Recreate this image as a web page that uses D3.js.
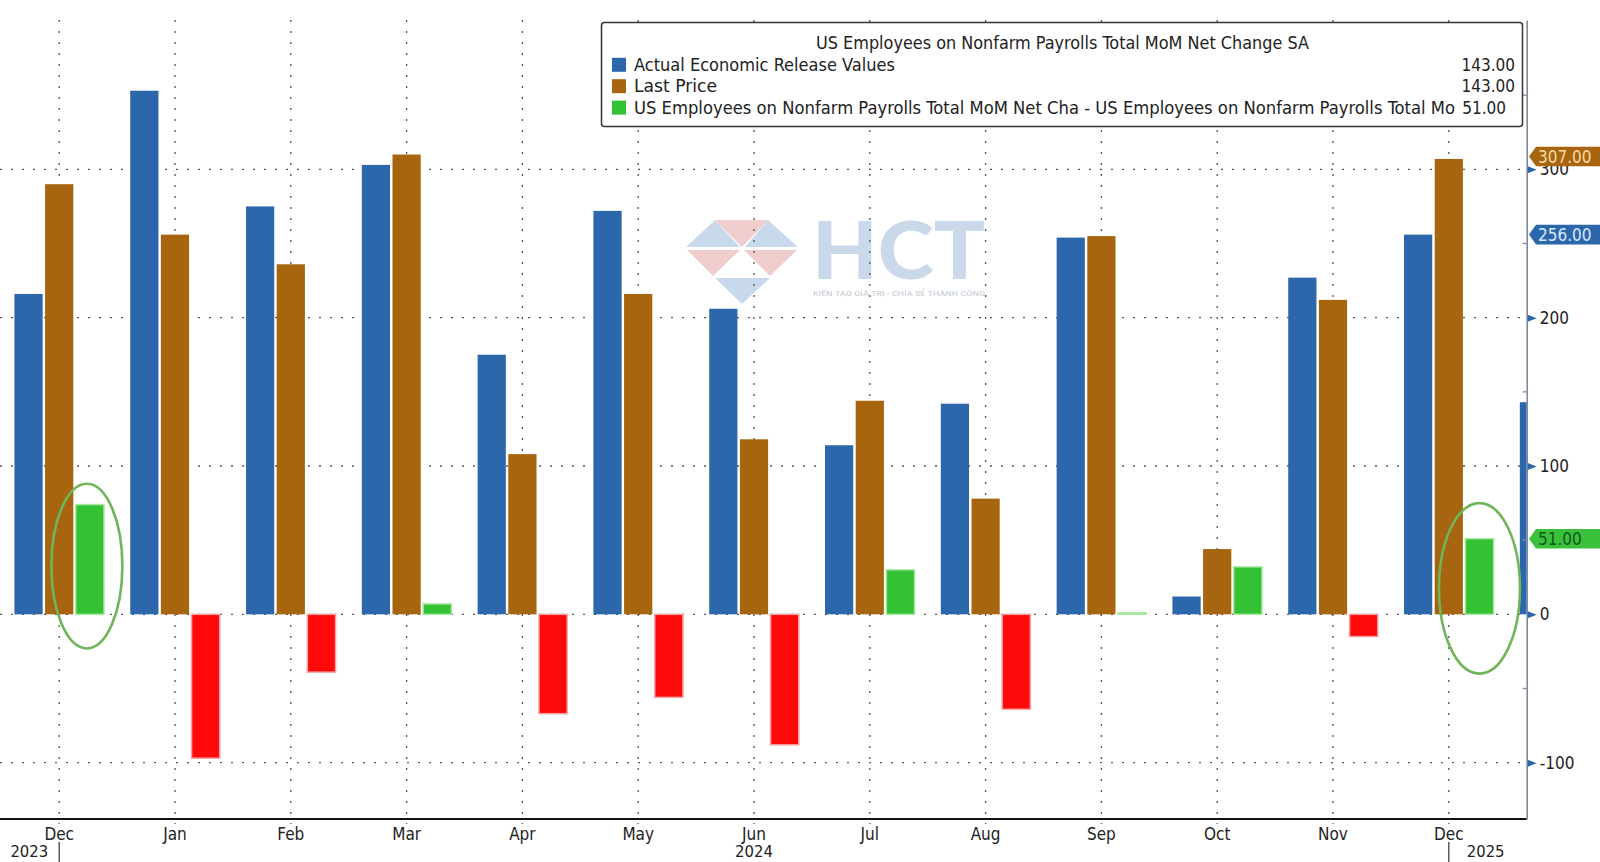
<!DOCTYPE html>
<html><head><meta charset="utf-8">
<script src="https://cdn.jsdelivr.net/npm/d3@7"></script>
<style>
html,body{margin:0;padding:0;background:#fff;}
svg{display:block;}
text{font-family:"DejaVu Sans Condensed","DejaVu Sans",sans-serif;font-stretch:condensed;}
</style></head><body><svg id="c" width="1600" height="862"></svg>
<script>
// ---- data ----
const monthKeys = ["2023-12","2024-01","2024-02","2024-03","2024-04","2024-05","2024-06","2024-07","2024-08","2024-09","2024-10","2024-11","2024-12","2025-01"];
const monthLabels = ["Dec","Jan","Feb","Mar","Apr","May","Jun","Jul","Aug","Sep","Oct","Nov","Dec","Jan"];
const actual    = [216, 353, 275, 303, 175, 272, 206, 114, 142, 254, 12, 227, 256, 143];
const lastPrice = [290, 256, 236, 310, 108, 216, 118, 144, 78, 255, 44, 212, 307, 143];
const diffVals  = [74, -97, -39, 7, -67, -56, -88, 30, -64, 1, 32, -15, 51, null];
const yTicks = [-100, 0, 100, 200, 300];
const yMinorTicks = [-50, 50, 150, 250, 350];
const yearLabels = ["2023", "2024", "2025"];
const yearAnchors = ["2023-12", "2024-06", "2024-12"];
const yearSeparators = ["2023-12", "2024-12"];
const legendTitle = "US Employees on Nonfarm Payrolls Total MoM Net Change SA";
const legendNames = ["Actual Economic Release Values", "Last Price", "US Employees on Nonfarm Payrolls Total MoM Net Cha - US Employees on Nonfarm Payrolls Total Mo"];
const legendValues = ["143.00", "143.00", "51.00"];
const tagValues = [307, 256, 51];
const highlightMonths = ["2023-12", "2024-12"];
const highlightRanges = [[88, -23], [75, -40]];

// ---- styles ----
const C = {blue:"#2c66ab", brown:"#a6650e", green:"#34c134", red:"#ff0a0a"};
const svg = d3.select("#c");
const P = {left:0, right:1526.7, top:20, bottom:819};

const x = d3.scaleBand().domain(monthKeys).range([1.3, 1.3 + 115.8*monthKeys.length]).padding(0);
const xc = k => x(k) + x.bandwidth()/2;
const xs = d3.scaleBand().domain(["actual","last","diff"]).range([-46,46]).paddingInner(0.08).paddingOuter(0.04);
const y = d3.scaleLinear().domain([-138, 400.7]).range([P.bottom, P.top]);

svg.append("rect").attr("width",1600).attr("height",862).attr("fill","#fff");

// watermark
const wm = svg.append("g").attr("transform","translate(686,220)");
const tris = [
  {p:[[0,27],[29,0],[54,27]], c:"#c9d9ec"},
  {p:[[29,0],[82,0],[56,27]], c:"#efcdcd"},
  {p:[[82,0],[112,27],[59,27]], c:"#c9d9ec"},
  {p:[[1,30],[54,30],[27,56]], c:"#efcdcd"},
  {p:[[58,30],[111,30],[84,56]], c:"#efcdcd"},
  {p:[[29,58],[84,58],[56,84]], c:"#c9d9ec"}
];
wm.selectAll("polygon").data(tris).join("polygon")
  .attr("points", d => d.p.map(q => q.join(",")).join(" "))
  .attr("fill", d => d.c);
svg.append("text").attr("x",812).attr("y",279).attr("textLength",173).attr("lengthAdjust","spacingAndGlyphs")
  .style("font-family","Lato, 'Open Sans', sans-serif").style("font-weight","900").style("font-size","80px")
  .attr("fill","#cad9ea").text("HCT");
svg.append("text").attr("x",813).attr("y",296).attr("textLength",172).attr("lengthAdjust","spacingAndGlyphs")
  .style("font-family","Roboto, sans-serif").style("font-size","8px").attr("fill","#c3cbd4")
  .text("KIẾN TẠO GIÁ TRỊ - CHIA SẺ THÀNH CÔNG");

// grid
const gridTicks = monthKeys.slice(0, 13);
svg.append("g").selectAll("line").data(gridTicks).join("line")
  .attr("x1", d => xc(d)).attr("x2", d => xc(d)).attr("y1", P.top).attr("y2", P.bottom + 5)
  .attr("stroke","#555").attr("stroke-width",1.3).attr("stroke-dasharray","2 9");
svg.append("g").selectAll("line").data(yTicks).join("line")
  .attr("x1", P.left).attr("x2", P.right).attr("y1", d => y(d)).attr("y2", d => y(d))
  .attr("stroke","#555").attr("stroke-width",1.3).attr("stroke-dasharray","2 9");

// bars
svg.append("defs").append("clipPath").attr("id","clip").append("rect")
  .attr("x",P.left).attr("y",P.top).attr("width",P.right-P.left).attr("height",P.bottom-P.top);
const bars = svg.append("g").attr("clip-path","url(#clip)");
const series = [
  {key:"actual", vals:actual},
  {key:"last", vals:lastPrice},
  {key:"diff", vals:diffVals}
];
series.forEach(s => {
  const data = monthKeys.map((k,i) => ({k, v:s.vals[i]})).filter(d => d.v !== null);
  bars.append("g").selectAll("rect").data(data).join("rect")
    .attr("x", d => xc(d.k) + xs(s.key))
    .attr("width", xs.bandwidth())
    .attr("y", d => y(Math.max(0, d.v)))
    .attr("height", d => Math.abs(y(d.v) - y(0)))
    .attr("fill", d => s.key === "actual" ? C.blue : s.key === "last" ? C.brown : (d.v >= 0 ? C.green : C.red))
    .attr("stroke", d => s.key === "diff" ? (d.v >= 0 ? "#a6e8a0" : "#f5a3a3") : "none")
    .attr("stroke-width", s.key === "diff" ? 1.5 : 0);
});

// highlight ellipses
svg.append("g").selectAll("ellipse").data(highlightMonths).join("ellipse")
  .attr("cx", (d,i) => xc(d) + xs("diff") + xs.bandwidth()/2 - (i === 0 ? 3 : 0))
  .attr("cy", (d,i) => (y(highlightRanges[i][0]) + y(highlightRanges[i][1]))/2)
  .attr("rx", (d,i) => i === 0 ? 35.5 : 40.5)
  .attr("ry", (d,i) => (y(highlightRanges[i][1]) - y(highlightRanges[i][0]))/2)
  .attr("fill","none").attr("stroke","#6fb55a").attr("stroke-width",2.6);

// bottom axis
const xAxis = d3.axisBottom(x).tickValues(gridTicks).tickSize(0).tickPadding(0)
  .tickFormat(k => monthLabels[monthKeys.indexOf(k)]);
const gx = svg.append("g").attr("transform",`translate(0,${P.bottom})`).call(xAxis);
gx.select(".domain").remove();
gx.selectAll("text").attr("y",21).attr("dy",0).style("font-size","17px").attr("fill","#222");
svg.append("line").attr("x1",P.left).attr("x2",P.right).attr("y1",P.bottom).attr("y2",P.bottom)
  .attr("stroke","#111").attr("stroke-width",2);
svg.append("g").selectAll("line").data(yearSeparators).join("line")
  .attr("x1", d => xc(d)).attr("x2", d => xc(d)).attr("y1", 842).attr("y2", 862)
  .attr("stroke","#333").attr("stroke-width",1.2);
svg.append("g").selectAll("text").data(yearLabels).join("text")
  .attr("x", (d,i) => xc(yearAnchors[i]) + (i === 0 ? -11 : i === 2 ? 18 : 0))
  .attr("y", 857)
  .attr("text-anchor", (d,i) => i === 0 ? "end" : i === 2 ? "start" : "middle")
  .style("font-size","16.5px").attr("fill","#222").text(d => d);

// right axis
const yAxis = d3.axisRight(y).tickValues(yTicks).tickSize(0).tickSizeOuter(0).tickPadding(13).tickFormat(d => String(d));
const gy = svg.append("g").attr("transform",`translate(${P.right},0)`).call(yAxis);
gy.select(".domain").attr("stroke","#7d8c9c").attr("stroke-width",1.6);
gy.selectAll("text").style("font-size","17px").attr("fill","#222");
gy.selectAll(".tick").append("path").attr("d","M1,-3.5 L10,0 L1,3.5 Z").attr("fill","#2c66ab");
svg.append("g").selectAll("line").data(yMinorTicks).join("line")
  .attr("x1", P.right - 4).attr("x2", P.right).attr("y1", d => y(d)).attr("y2", d => y(d))
  .attr("stroke","#7d8c9c").attr("stroke-width",1.3);

// value tags
const tagStyle = [
  {bg:C.brown, fg:"#fbd9a6"},
  {bg:C.blue, fg:"#dbe8f8"},
  {bg:"#3cc13c", fg:"#0c5a1c"}
];
const tags = svg.append("g").selectAll("g").data(tagValues).join("g")
  .attr("transform", (d,i) => `translate(1529,${y(d) - (i === 0 ? 2.5 : 0)})`);
tags.append("path").attr("d","M0,0 L7,-9.8 L80,-9.8 L80,9.8 L7,9.8 Z").attr("fill",(d,i) => tagStyle[i].bg);
tags.append("text").attr("x",9).attr("y",6.3).style("font-size","17px")
  .attr("fill",(d,i) => tagStyle[i].fg).text(d => d3.format(".2f")(d));

// legend
const lg = svg.append("g");
lg.append("rect").attr("x",601.5).attr("y",22.5).attr("width",921).attr("height",104).attr("rx",3)
  .attr("fill","#fff").attr("stroke","#333").attr("stroke-width",1.5);
lg.append("text").attr("x",816).attr("y",49).attr("textLength",493).attr("lengthAdjust","spacingAndGlyphs")
  .style("font-size","17px").attr("fill","#222").text(legendTitle);
const legendColors = [C.blue, C.brown, C.green];
const legendLens = [261, 83, 821];
const legendValEnd = [1515, 1515, 1506];
legendNames.forEach((n,i) => {
  const cy = 64.8 + i*21.4;
  lg.append("rect").attr("x",612).attr("y",cy-7).attr("width",14).attr("height",14).attr("fill",legendColors[i]);
  lg.append("text").attr("x",634).attr("y",cy+6).attr("textLength",legendLens[i]).attr("lengthAdjust","spacingAndGlyphs")
    .style("font-size","17px").attr("fill","#222").text(n);
  lg.append("text").attr("x",legendValEnd[i]).attr("y",cy+6).attr("text-anchor","end")
    .style("font-size","17px").attr("fill","#222").text(legendValues[i]);
});
</script></body></html>
